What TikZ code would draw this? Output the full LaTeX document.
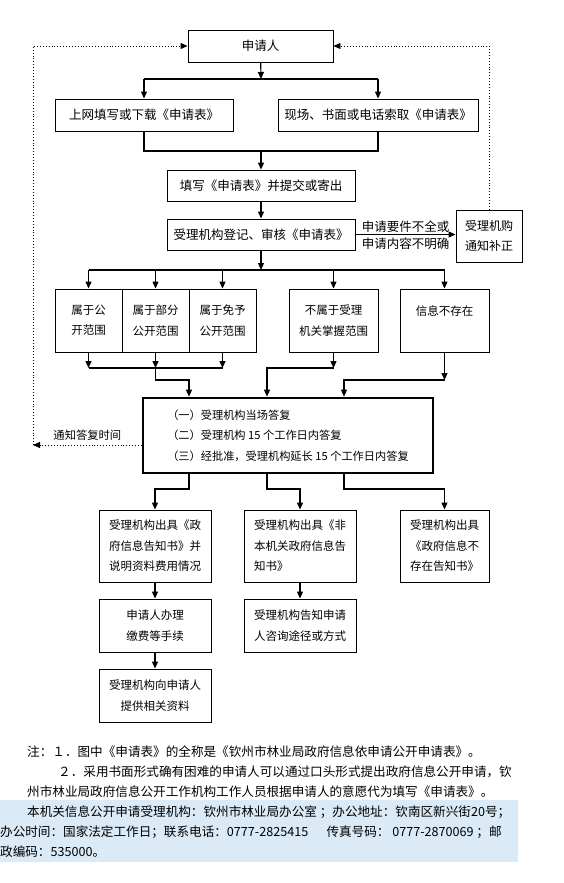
\documentclass[tikz,border=0pt]{standalone}
\usepackage{fontspec}
\setmainfont{Noto Sans CJK SC}
\usetikzlibrary{arrows.meta,positioning}
\definecolor{notebg}{HTML}{DAEAF6}

\begin{document}
\begin{tikzpicture}[x=1pt,y=-1pt,font=\fontsize{12.5}{20}\selectfont,
  b/.style={draw,line width=0.9pt,inner sep=2pt,align=center},
  s/.style={b,font=\fontsize{11.5}{20.5}\selectfont},
  ln/.style={line width=1.2pt},
  arr/.style={-{Triangle[length=7pt,width=6pt]},line width=1.2pt},
  dotarr/.style={-{Triangle[length=7pt,width=6pt]},dotted,line width=0.9pt}]
\useasboundingbox (0,0) rectangle (564,883);
\node[b,minimum width=145,minimum height=32] (ren) at (260.5,46) {申请人};
\node[b,minimum width=178,minimum height=32] (sw) at (144,115) {上网填写或下载《申请表》};
\node[b,minimum width=200,minimum height=32] (xc) at (378,115) {现场、书面或电话索取《申请表》};
\node[b,minimum width=188,minimum height=31] (tx) at (261,185.5) {填写《申请表》并提交或寄出};
\node[b,minimum width=188,minimum height=31] (dj) at (261,234.5) {受理机构登记、审核《申请表》};
\node[b,minimum width=66,minimum height=52,font=\fontsize{12}{20}\selectfont] (bz) at (489,236) {受理机购\\通知补正};
\node[s,minimum width=67,minimum height=63] (k1) at (88.5,320.5) {属于公\\开范围};
\node[s,minimum width=67,minimum height=63] (k2) at (155.5,320.5) {属于部分\\公开范围};
\node[s,minimum width=67,minimum height=63] (k3) at (222.5,320.5) {属于免予\\公开范围};
\node[s,minimum width=89,minimum height=63] (k4) at (333.5,320.5) {不属于受理\\机关掌握范围};
\node[s,minimum width=89,minimum height=63] (k5) at (444.5,320.5) {信息不存在\\\mbox{}};
\node[draw,line width=2.6pt,minimum width=290,minimum height=75,align=left,
  font=\fontsize{11.2}{20.5}\selectfont] (dfu) at (288,435.5)
  {（一）受理机构当场答复\\（二）受理机构 15 个工作日内答复\\（三）经批准，受理机构延长 15 个工作日内答复};
\node[s,minimum width=112,minimum height=72] (ga) at (155,546) {受理机构出具《政\\府信息告知书》并\\说明资料费用情况};
\node[s,minimum width=112,minimum height=72,align=left] (gb) at (300,546) {受理机构出具《非\\本机关政府信息告\\知书》};
\node[s,minimum width=89,minimum height=72] (gc) at (444.5,546) {受理机构出具\\《政府信息不\\存在告知书》};
\node[s,minimum width=112,minimum height=53] (jf) at (155,625.5) {申请人办理\\缴费等手续};
\node[s,minimum width=112,minimum height=53] (gz) at (300,625.5) {受理机构告知申请\\人咨询途径或方式};
\node[s,minimum width=112,minimum height=53] (tg) at (155,695.5) {受理机构向申请人\\提供相关资料};

\coordinate (r1) at (261,79);
\coordinate (r2) at (261,151);
\coordinate (r3) at (261,270);
\coordinate (h4) at (0,368);
\coordinate (h5) at (0,380);
\coordinate (h6) at (0,489);
\coordinate (m1) at (189,0);
\coordinate (m2) at (267,0);
\coordinate (m3) at (344,0);
\coordinate (lt) at (33,445);

\draw[arr] (ren) -- (r1);
\draw[ln] (sw |- r1) -- (xc |- r1);
\foreach \n in {sw,xc} \draw[arr] (\n |- r1) -- (\n);
\draw[ln] (sw) |- (r2) -| (xc);
\draw[arr] (r2) -- (tx);
\draw[arr] (tx) -- (dj);
\draw[arr] (dj.east) -- node[above=-2pt]{申请要件不全或} node[below=-1pt]{申请内容不明确} (dj.east -| bz.west);
\draw[dotarr] (bz.north) |- (ren);
\draw[arr] (dj) -- (r3);
\draw[ln] (k1 |- r3) -- (k5 |- r3);
\foreach \n in {k1,k2,k3,k4,k5} \draw[arr] (\n |- r3) -- (\n);
\foreach \n in {k1,k2,k3} \draw[arr] (\n) -- (\n |- h4);
\draw[ln] (k1 |- h4) -- (k3 |- h4);
\draw[arr] (k2 |- h4) |- (m1 |- h5) -- (m1 |- dfu.north);
\draw[arr] (k4) -- (k4 |- h4);
\draw[arr] (k4 |- h4) -| (m2 |- dfu.north);
\draw[arr] (k5) -- (k5 |- h5);
\draw[arr] (k5 |- h5) -| (m3 |- dfu.north);
\draw[dotarr] (dfu.west |- lt) -- node[above=1pt,font=\fontsize{11.3}{14}\selectfont]{通知答复时间} (lt);
\draw[dotarr] (lt) |- (ren);
\draw[arr] (m1 |- dfu.south) |- (ga |- h6) -- (ga);
\draw[arr] (m2 |- dfu.south) |- (gb |- h6) -- (gb);
\draw[arr] (m3 |- dfu.south) |- (gc |- h6) -- (gc);
\draw[arr] (ga) -- (jf);
\draw[arr] (jf) -- (tg);
\draw[arr] (gb) -- (gz);

\node[anchor=north west,align=left,inner sep=0pt,font=\fontsize{12.6}{20}\selectfont] (zhu) at (27,746)
  {注：１．图中《申请表》的全称是《钦州市林业局政府信息依申请公开申请表》。\\
   \hspace*{31pt}２．采用书面形式确有困难的申请人可以通过口头形式提出政府信息公开申请，钦\\
   州市林业局政府信息公开工作机构工作人员根据申请人的意愿代为填写《申请表》。};
\node[fill=notebg,inner sep=0pt,minimum width=518,minimum height=62,anchor=north west] (bg) at (0,800) {};
\node[anchor=north west,align=left,inner sep=0pt,font=\fontsize{12.6}{20}\selectfont] (lx) at (0,806)
  {\hspace*{27pt}本机关信息公开申请受理机构：钦州市林业局办公室 ；办公地址：钦南区新兴街20号；\\
   办公时间：国家法定工作日；联系电话：0777-2825415\quad\ \ 传真号码：\ 0777-2870069 ；邮\\
   政编码：535000。};
\end{tikzpicture}
\end{document}
